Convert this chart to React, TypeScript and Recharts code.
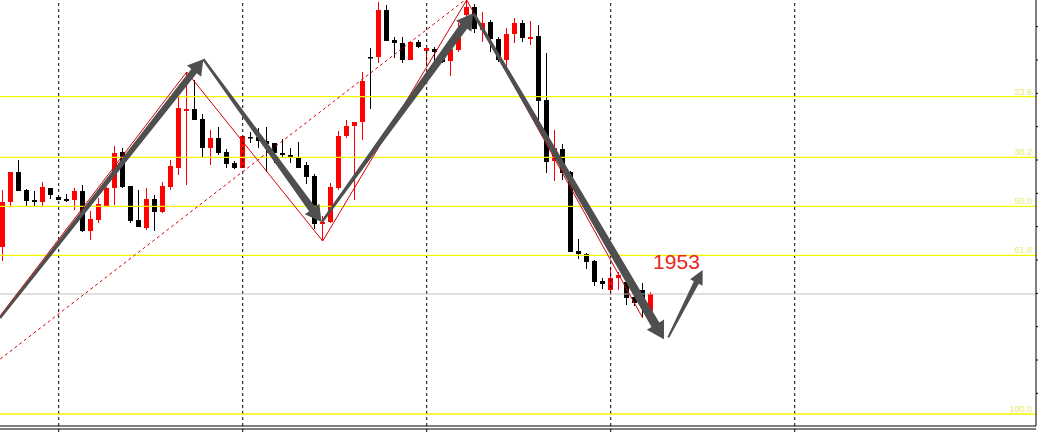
import React from 'react';
import { ComposedChart, Bar, XAxis, YAxis, ReferenceLine, ReferenceDot } from 'recharts';

// ---- candle data (price units) ----
const opens = [
  1983.9, 1997.4, 2006.4, 2001.0, 1998.0, 1997.4, 2001.6, 1998.9, 1998.3, 1998.0,
  2000.7, 1988.7, 1992.0, 1996.2, 2001.6, 2012.4, 2002.2, 1992.0, 1989.6, 1998.3,
  1994.4, 2001.9, 2007.6, 2024.7, 2025.3, 2022.3, 2013.6, 2016.6, 2012.4, 2009.1,
  2007.6, 2016.9, 2016.9, 2015.7, 2015.1, 2012.1, 2011.5, 2010.9, 2008.5, 2005.2,
  1990.8, 1991.4, 2001.6, 2017.2, 2020.2, 2021.4, 2040.9, 2040.9, 2055.0, 2046.0,
  2045.1, 2040.0, 2045.4, 2042.7, 2043.3, 2041.5, 2039.7, 2043.0, 2053.5, 2055.9,
  2049.0, 2051.4, 2046.3, 2040.0, 2047.8, 2051.1, 2046.3, 2047.2, 2028.0, 2009.7,
  2013.3, 2006.4, 1982.7, 1981.8, 1979.7, 1973.7, 1971.0, 1974.6, 1973.4, 1968.9,
  1971.0, 1964.7,
];
const highs = [
  2001.0, 2006.4, 2010.0, 2001.3, 2000.7, 2003.4, 2001.6, 1999.5, 1999.8, 2001.6,
  2002.5, 1994.7, 1998.6, 2001.9, 2014.2, 2013.6, 2002.2, 2001.0, 2001.6, 1999.5,
  2003.4, 2010.0, 2028.9, 2036.4, 2034.0, 2023.8, 2019.0, 2019.9, 2013.3, 2009.7,
  2017.2, 2018.4, 2019.6, 2019.9, 2015.1, 2016.3, 2013.6, 2015.4, 2009.4, 2005.8,
  1993.2, 2003.1, 2018.7, 2022.0, 2021.4, 2036.4, 2043.6, 2057.4, 2056.5, 2046.9,
  2046.9, 2045.7, 2046.0, 2043.6, 2043.9, 2043.0, 2043.3, 2051.1, 2058.0, 2056.8,
  2054.4, 2052.0, 2046.9, 2049.6, 2052.6, 2052.0, 2051.7, 2050.5, 2042.1, 2019.0,
  2014.8, 2006.7, 1986.3, 1982.1, 1980.0, 1974.6, 1977.9, 1976.4, 1973.4, 1970.4,
  1973.1, 1970.4,
];
const lows = [
  1979.7, 1995.9, 2000.7, 1995.9, 1995.9, 1995.9, 1998.3, 1998.0, 1997.4, 1995.0,
  1988.4, 1986.0, 1991.1, 1995.9, 1996.5, 2001.6, 1991.1, 1989.9, 1989.0, 1988.7,
  1994.1, 2001.0, 2005.5, 2002.5, 2022.0, 2010.6, 2008.5, 2011.5, 2007.6, 2007.3,
  2007.6, 2015.1, 2013.6, 2006.4, 2009.1, 2010.9, 2009.1, 2007.6, 2002.8, 1989.3,
  1985.7, 1991.1, 2001.0, 2016.6, 1998.0, 2016.0, 2025.3, 2039.1, 2045.7, 2040.6,
  2039.1, 2040.0, 2043.6, 2038.5, 2039.4, 2039.1, 2035.2, 2042.4, 2052.6, 2048.1,
  2045.4, 2042.4, 2039.4, 2037.6, 2045.1, 2045.4, 2044.5, 2022.0, 2006.1, 2003.7,
  2004.0, 1982.4, 1980.3, 1977.3, 1972.2, 1971.3, 1969.5, 1971.0, 1966.5, 1966.2,
  1962.6, 1964.4,
];
const closes = [
  1997.4, 2006.4, 2000.7, 1997.7, 1997.4, 2001.9, 1999.5, 1998.0, 1997.7, 2000.7,
  1988.7, 1992.3, 1996.8, 2001.6, 2012.1, 2001.9, 1991.7, 1989.9, 1998.3, 1994.4,
  2002.2, 2008.2, 2025.6, 2025.3, 2022.0, 2013.6, 2016.6, 2012.1, 2008.8, 2007.6,
  2017.2, 2016.6, 2015.7, 2014.8, 2012.1, 2011.5, 2010.9, 2007.6, 2004.9, 1990.8,
  1991.4, 2001.9, 2017.2, 2020.2, 2021.4, 2033.7, 2040.6, 2055.0, 2045.7, 2045.1,
  2040.0, 2045.4, 2043.9, 2043.6, 2042.4, 2039.4, 2043.3, 2048.1, 2055.9, 2049.3,
  2051.1, 2046.3, 2040.0, 2047.8, 2051.1, 2046.6, 2046.9, 2027.7, 2009.4, 2013.6,
  2006.1, 1982.4, 1981.8, 1979.4, 1973.4, 1972.8, 1974.6, 1975.5, 1968.6, 1967.1,
  1968.0, 1969.8,
];

// ---- axes / grid ----
const gridIdx = [7, 30, 53, 76, 99];
const priceTicks = [1940, 1950, 1960, 1970, 1980, 1990, 2000, 2010, 2020, 2030, 2040, 2050];
const lastPrice = 1969.8;

// ---- fibonacci retracement ----
const fibLabels = ['23.6', '38.2', '50.0', '61.8', '100.0'];
const fibPrices = [2029.0, 2010.8, 1996.1, 1981.4, 1933.8];
const fibTrendIdx = [-9.2, 58];
const fibTrendPrice = [1933.8, 2058.4];

// ---- zigzag ----
const zigzagIdx = [-0.34, 23, 40, 58, 80];
const zigzagPrice = [1963.2, 2036.4, 1985.7, 2058.0, 1962.6];

// ---- hand-drawn arrows ----
const arrowFromIdx = [-0.34, 25.08, 39.9, 58.9, 83.2];
const arrowFromPrice = [1962.6, 2040.2, 1991.4, 2053.8, 1956.8];
const arrowToIdx = [25.08, 39.85, 58.8, 82.66, 87.5];
const arrowToPrice = [2040.2, 1991.4, 2054.0, 1956.2, 1977.0];

// ---- note ----
const noteText = '1953';
const noteIdx = 81.3;
const notePrice = 1977.3;

const data = opens.map((o, i) => ({
  i,
  open: o,
  high: highs[i],
  low: lows[i],
  close: closes[i],
  range: [lows[i], highs[i]],
}));

const X_DOMAIN: [number, number] = [-0.3375, 129.1625];
const Y_DOMAIN: [number, number] = [1930.2, 2058];

const arrowStyles = [
  { tail: 2.5, shaft: 7, head: 15, half: 9 },
  { tail: 2.5, shaft: 7.5, head: 16, half: 9 },
  { tail: 2.5, shaft: 8.5, head: 16, half: 9.5 },
  { tail: 3, shaft: 9, head: 17, half: 10 },
  { tail: 2, shaft: 5.5, head: 14, half: 7 },
];

const Candle = (props: any) => {
  const { x, y, width, height, payload } = props;
  if (payload == null || x == null) return null;
  const { open, close, high, low } = payload;
  const ratio = high - low > 0 ? height / (high - low) : 0;
  const yO = y + (high - open) * ratio;
  const yC = y + (high - close) * ratio;
  const up = close >= open;
  const color = up ? '#ff0000' : '#000000';
  const cx = Math.floor(x + width / 2) + 0.5;
  const top = Math.min(yO, yC);
  const bh = Math.max(1.5, Math.abs(yO - yC));
  return (
    <g>
      <line x1={cx} x2={cx} y1={y} y2={y + height} stroke={color} strokeWidth={1} />
      <rect x={cx - 2.5} y={top} width={5} height={bh} fill={color} />
    </g>
  );
};

const makeArrow = (st: { tail: number; shaft: number; head: number; half: number }) => (p: any) => {
  const { x1, y1, x2, y2 } = p;
  const dx = x2 - x1;
  const dy = y2 - y1;
  const len = Math.hypot(dx, dy) || 1;
  const ux = dx / len;
  const uy = dy / len;
  const nx = -uy;
  const ny = ux;
  const bx = x2 - ux * st.head;
  const by = y2 - uy * st.head;
  const pts = [
    [x1 + (nx * st.tail) / 2, y1 + (ny * st.tail) / 2],
    [bx + (nx * st.shaft) / 2, by + (ny * st.shaft) / 2],
    [bx + nx * st.half, by + ny * st.half],
    [x2, y2],
    [bx - nx * st.half, by - ny * st.half],
    [bx - (nx * st.shaft) / 2, by - (ny * st.shaft) / 2],
    [x1 - (nx * st.tail) / 2, y1 - (ny * st.tail) / 2],
  ];
  return <polygon points={pts.map((q) => q.join(',')).join(' ')} fill="#4f4f4f" stroke="none" />;
};

const makeFibLine = (label: string) => (p: any) => {
  const { x1, y1, x2, y2 } = p;
  return (
    <g>
      <line x1={x1} y1={y1} x2={x2} y2={y2} stroke="#f5f500" strokeWidth={1.4} />
      <text
        x={Math.max(x1, x2) - 4}
        y={y1 - 2}
        textAnchor="end"
        fontSize={9}
        fontFamily="Liberation Sans, Arial, sans-serif"
        fill="#e9e96a"
      >
        {label}
      </text>
    </g>
  );
};

const NoteShape = (p: any) => (
  <text
    x={p.cx}
    y={p.cy}
    fontSize={21}
    fontFamily="Liberation Sans, Arial, sans-serif"
    fill="#e8281e"
  >
    {noteText}
  </text>
);

export default function App() {
  return (
    <div style={{ position: 'absolute', left: 0, top: 0, width: 1038, height: 432, background: '#fff' }}>
      <ComposedChart width={1038} height={432} data={data} margin={{ top: 0, right: 0, bottom: 0, left: 0 }}>
        <XAxis
          dataKey="i"
          type="number"
          domain={X_DOMAIN}
          allowDataOverflow
          height={3}
          tick={false}
          tickLine={false}
          axisLine={{ stroke: '#000' }}
        />
        <XAxis
          xAxisId="g"
          dataKey="i"
          type="number"
          domain={X_DOMAIN}
          allowDataOverflow
          ticks={gridIdx}
          interval={0}
          height={3}
          tickSize={3}
          tickFormatter={() => ''}
          axisLine={{ stroke: '#000' }}
          tickLine={{ stroke: '#000' }}
        />
        <YAxis
          orientation="right"
          type="number"
          domain={Y_DOMAIN}
          allowDataOverflow
          ticks={priceTicks}
          interval={0}
          width={2}
          tickSize={4}
          tickFormatter={() => ''}
          axisLine={{ stroke: '#000' }}
          tickLine={{ stroke: '#000' }}
        />
        {gridIdx.map((g) => (
          <ReferenceLine key={'g' + g} x={g} stroke="#000" strokeDasharray="3 3" ifOverflow="visible" />
        ))}
        {fibPrices.map((v, k) => (
          <ReferenceLine key={'f' + k} y={v} ifOverflow="visible" shape={makeFibLine(fibLabels[k])} />
        ))}
        <ReferenceLine y={lastPrice} stroke="#c0c0c0" strokeWidth={1} ifOverflow="visible" />
        <Bar dataKey="range" barSize={5} shape={Candle} isAnimationActive={false} />
        {zigzagIdx.slice(1).map((ix, k) => (
          <ReferenceLine
            key={'z' + k}
            segment={[
              { x: zigzagIdx[k], y: zigzagPrice[k] },
              { x: ix, y: zigzagPrice[k + 1] },
            ]}
            stroke="#d40000"
            strokeWidth={1}
            ifOverflow="visible"
          />
        ))}
        <ReferenceLine
          segment={[
            { x: fibTrendIdx[0], y: fibTrendPrice[0] },
            { x: fibTrendIdx[1], y: fibTrendPrice[1] },
          ]}
          stroke="#d40000"
          strokeWidth={1}
          strokeDasharray="3 3"
          ifOverflow="hidden"
        />
        {arrowFromIdx.map((fx, k) => (
          <ReferenceLine
            key={'a' + k}
            segment={[
              { x: fx, y: arrowFromPrice[k] },
              { x: arrowToIdx[k], y: arrowToPrice[k] },
            ]}
            ifOverflow="visible"
            shape={makeArrow(arrowStyles[k])}
          />
        ))}
        <ReferenceDot x={noteIdx} y={notePrice} r={0} ifOverflow="visible" shape={NoteShape} />
      </ComposedChart>
    </div>
  );
}
